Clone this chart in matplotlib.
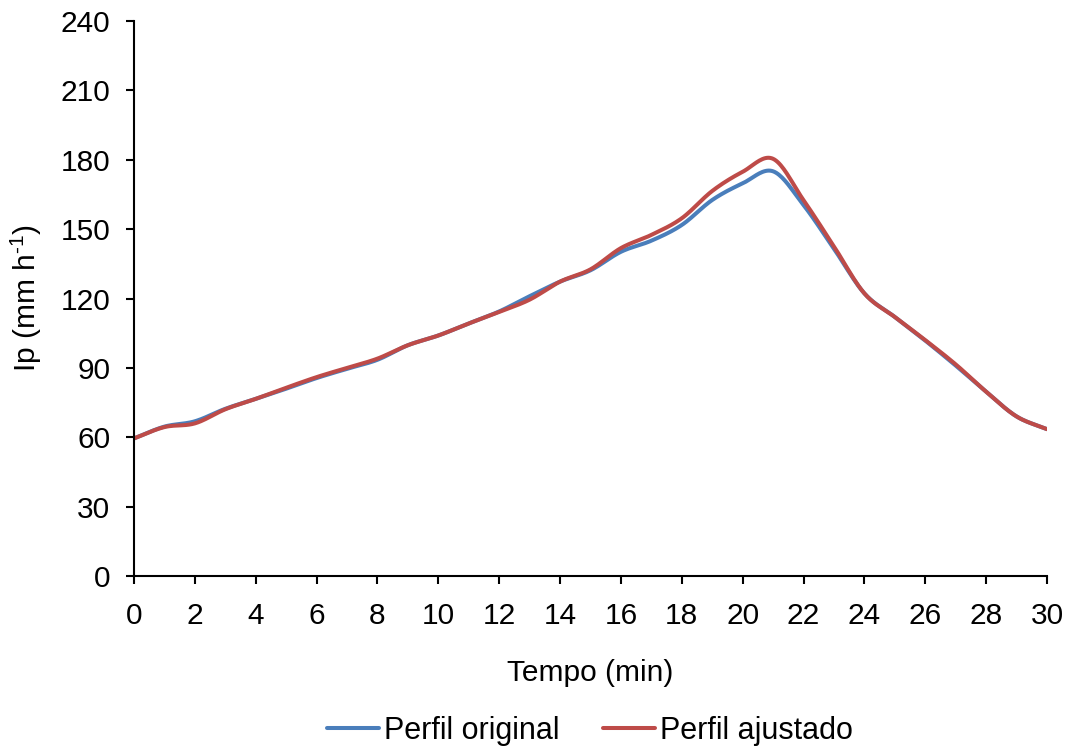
import numpy as np
import matplotlib
matplotlib.use("Agg")
import matplotlib.pyplot as plt

plt.rcParams['font.family'] = ['Liberation Sans', 'DejaVu Sans']
plt.rcParams['mathtext.fontset'] = 'custom'
plt.rcParams['mathtext.rm'] = 'Liberation Sans'
plt.rcParams['mathtext.default'] = 'regular'

tempo = list(range(0, 31))
perfil_original = [59.5, 64.6, 66.9, 72.3, 76.6, 81.0, 85.6, 89.6, 93.5, 99.8, 104.0,
                   109.2, 114.4, 121.0, 127.3, 132.2, 140.2, 145.0, 151.8, 162.6, 169.8,
                   175.0, 160.4, 141.5, 122.2, 112.0, 101.8, 91.0, 79.7, 69.0, 63.5]
perfil_ajustado = [59.5, 64.4, 66.0, 72.1, 76.6, 81.4, 86.0, 90.0, 94.0, 99.8, 104.0,
                   109.2, 114.2, 119.5, 127.3, 132.6, 141.8, 147.5, 154.7, 166.5, 174.8,
                   180.4, 162.5, 142.5, 122.2, 112.0, 102.0, 91.5, 79.7, 69.0, 63.5]
series_labels = ['Perfil original', 'Perfil ajustado']
series_colors = ['#4A7EBB', '#BE4B48']
y_ticks = [0, 30, 60, 90, 120, 150, 180, 210, 240]
x_ticks = list(range(0, 31, 2))


def smooth(x, y, n=20):
    # Catmull-Rom style smoothing through the data points (like Excel smoothed lines)
    x = np.asarray(x, float)
    y = np.asarray(y, float)
    px = np.concatenate([[2 * x[0] - x[1]], x, [2 * x[-1] - x[-2]]])
    py = np.concatenate([[2 * y[0] - y[1]], y, [2 * y[-1] - y[-2]]])
    xs, ys = [], []
    t = np.linspace(0, 1, n, endpoint=False)
    for i in range(1, len(px) - 2):
        for P, out in (((py[i - 1], py[i], py[i + 1], py[i + 2]), ys),
                       ((px[i - 1], px[i], px[i + 1], px[i + 2]), xs)):
            a0, a1, a2, a3 = P
            out.extend(0.5 * ((2 * a1) + (-a0 + a2) * t + (2 * a0 - 5 * a1 + 4 * a2 - a3) * t ** 2
                              + (-a0 + 3 * a1 - 3 * a2 + a3) * t ** 3))
    xs.append(x[-1])
    ys.append(y[-1])
    return np.array(xs), np.array(ys)


FS = 21.5
fig = plt.figure(figsize=(10.7, 7.49), dpi=100)
ax = fig.add_axes([134 / 1070, 1 - 576 / 749, (1047 - 134) / 1070, (576 - 21) / 749])

for vals, lab, col in zip([perfil_original, perfil_ajustado], series_labels, series_colors):
    sx, sy = smooth(tempo, vals)
    ax.plot(sx, sy, color=col, lw=2.9, label=lab, solid_capstyle='round')

ax.set_xlim(0, 30)
ax.set_ylim(0, 240)
ax.set_xticks(x_ticks)
ax.set_yticks(y_ticks)
ax.spines['top'].set_visible(False)
ax.spines['right'].set_visible(False)
for s in ['left', 'bottom']:
    ax.spines[s].set_linewidth(1.5)
ax.tick_params(axis='both', direction='out', length=6, width=1.5, labelsize=FS)
ax.tick_params(axis='x', pad=12.5)
ax.tick_params(axis='y', pad=11)

ax.set_xlabel('Tempo (min)', fontsize=FS, va='center')
ax.xaxis.set_label_coords(0.5, (576 - 673) / 555)
ax.set_ylabel(r'Ip (mm h$^{\text{-}1}$)', fontsize=FS, va='center')
ax.yaxis.set_label_coords((26 - 134) / 913, 0.5)

leg = fig.legend(loc='center', bbox_to_anchor=(590 / 1070, 1 - 731 / 749), ncol=2, frameon=False,
                 fontsize=22, handlelength=1.7, handletextpad=0.15, columnspacing=1.45)

fig.savefig('out.png', dpi=100)
